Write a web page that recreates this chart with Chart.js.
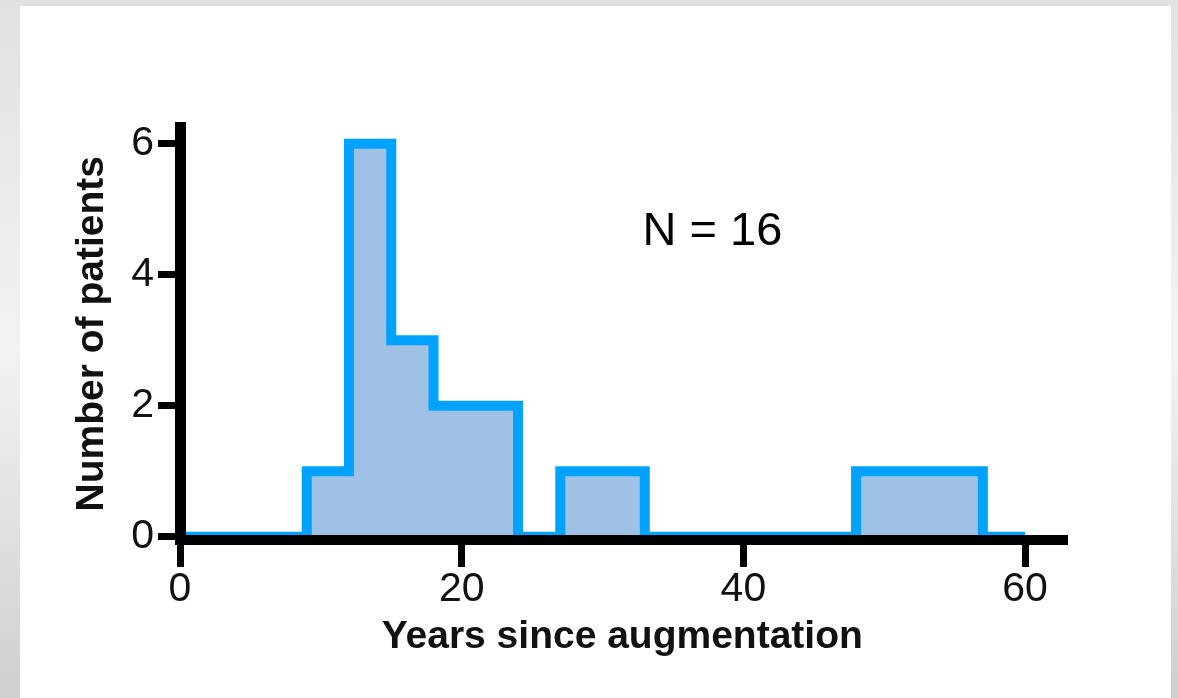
<!DOCTYPE html>
<html>
<head>
<meta charset="utf-8">
<title>Years since augmentation</title>
<script src="https://cdn.jsdelivr.net/npm/chart.js@4.4.0/dist/chart.umd.min.js"></script>
<style>
  html, body { margin: 0; padding: 0; }
  body {
    width: 1178px; height: 698px; overflow: hidden; position: relative;
    background: linear-gradient(to bottom, #e1e1e1 0%, #f3f3f3 50%, #cfcfcf 100%);
  }
  #panel { position: absolute; left: 20px; top: 6px; width: 1151px; height: 692px; background: #fff; }
  #histChart { position: absolute; left: 0; top: 0; }
</style>
</head>
<body>
<div id="panel"></div>
<canvas id="histChart" width="1178" height="698"></canvas>
<script>
// --- Data ---
// left edge of each 3-year bin; the last entry closes the final bin
const binEdges = [0, 3, 6, 9, 12, 15, 18, 21, 24, 27, 30, 33, 36, 39, 42, 45, 48, 51, 54, 57, 60];
const binCounts = [0, 0, 0, 1, 6, 3, 2, 2, 0, 1, 1, 0, 0, 0, 0, 0, 1, 1, 1, 0, 0];
const xTicks = [0, 20, 40, 60];
const yTicks = [0, 2, 4, 6];
const annotationText = 'N = 16';
const annotationAt = [37.8, 4.65];

const fontFamily = '"Liberation Sans", Arial, Helvetica, sans-serif';

// draws the "N = 16" note inside the plot
const nLabelPlugin = {
    id: 'nLabel',
    afterDraw(chart) {
        const { ctx, scales: { x, y } } = chart;
        ctx.save();
        ctx.font = '47px ' + fontFamily;
        ctx.fillStyle = '#000';
        ctx.textAlign = 'center';
        ctx.textBaseline = 'middle';
        ctx.fillText(annotationText, x.getPixelForValue(annotationAt[0]), y.getPixelForValue(annotationAt[1]));
        ctx.restore();
    }
};

const ctx = document.getElementById('histChart').getContext('2d');
new Chart(ctx, {
    type: 'line',
    data: {
        datasets: [{
            data: binEdges.map((edge, i) => ({ x: edge, y: binCounts[i] })),
            stepped: true,
            fill: 'origin',
            borderColor: '#00a2ff',
            backgroundColor: '#9fc1e5',
            borderWidth: 10,
            borderJoinStyle: 'miter',
            borderCapStyle: 'butt',
            pointRadius: 0,
            pointHoverRadius: 0
        }]
    },
    options: {
        responsive: false,
        animation: false,
        devicePixelRatio: 1,
        layout: { padding: { left: 20, right: 113.5, top: 127.5, bottom: 0 } },
        plugins: {
            legend: { display: false },
            tooltip: { enabled: false }
        },
        scales: {
            x: {
                type: 'linear',
                min: 0,
                max: 62.8,
                afterBuildTicks: scale => { scale.ticks = xTicks.map(v => ({ value: v })); },
                afterFit: scale => { scale.height = 158; },
                // axis line and tick marks go over the bars (z > 0)
                grid: { drawOnChartArea: false, color: '#000', lineWidth: 7, tickLength: 27, z: 1 },
                border: { color: '#000', width: 10, z: 1 },
                ticks: { color: '#111', font: { family: fontFamily, size: 41 }, padding: -2, maxRotation: 0, autoSkip: false },
                title: {
                    display: true,
                    text: 'Years since augmentation',
                    color: '#111',
                    font: { family: fontFamily, size: 39, weight: 'bold' },
                    padding: { top: 0, bottom: 37 }
                }
            },
            y: {
                type: 'linear',
                min: -0.05,
                max: 6.25,
                afterBuildTicks: scale => { scale.ticks = yTicks.map(v => ({ value: v })); },
                afterFit: scale => { scale.width = 160; },
                grid: { drawOnChartArea: false, color: '#000', lineWidth: 7, tickLength: 22, z: 1 },
                border: { color: '#000', width: 11, z: 1 },
                ticks: { color: '#111', font: { family: fontFamily, size: 41 }, padding: 4, autoSkip: false },
                title: {
                    display: true,
                    text: 'Number of patients',
                    color: '#111',
                    font: { family: fontFamily, size: 39, weight: 'bold' },
                    padding: { top: 49, bottom: 0 }
                }
            }
        }
    },
    plugins: [nLabelPlugin]
});
</script>
</body>
</html>
